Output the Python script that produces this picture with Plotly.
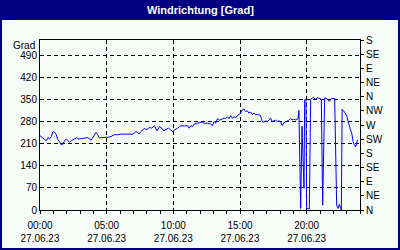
import plotly.graph_objects as go

# ---- data (hour of day, wind direction in degrees) ----
hours = [0.0, 0.30, 0.47, 0.60, 0.72, 0.85, 0.97, 1.09, 1.22, 1.34, 1.47, 1.59, 1.72, 1.84, 1.97,
         2.09, 2.21, 2.34, 2.46, 2.59, 2.79, 2.88, 3.03, 3.21, 3.46, 3.58, 3.71, 3.83, 3.96, 4.08,
         4.20, 4.33, 4.45, 4.58, 4.83, 5.07, 5.32, 5.57, 5.82, 6.07, 6.57, 6.94, 7.06, 7.19, 7.31,
         7.44, 7.56, 7.81, 8.03, 8.21, 8.38, 8.58, 8.78, 8.96, 9.13, 9.28, 9.45, 9.63, 9.78, 9.95,
         10.07, 10.20, 10.32, 10.45, 10.57, 10.82, 11.07, 11.19, 11.32, 11.44, 11.57, 11.82, 12.06,
         12.19, 12.31, 12.56, 12.81, 12.93, 13.06, 13.18, 13.31, 13.43, 13.56, 13.81, 13.93, 14.05,
         14.18, 14.30, 14.43, 14.55, 14.68, 14.80, 14.93, 15.05, 15.17, 15.30, 15.42, 15.55, 15.67,
         15.80, 15.92, 16.04, 16.17, 16.29, 16.42, 16.54, 16.67, 16.79, 16.92, 17.04, 17.16, 17.29,
         17.41, 17.54, 17.66, 17.79, 17.91, 18.04, 18.16, 18.29, 18.41, 18.54, 18.66, 18.78, 18.91,
         19.03, 19.20, 19.35, 19.42, 19.50, 19.55, 19.65, 19.80, 19.85, 19.95, 20.00, 20.20, 20.30,
         20.40, 20.50, 20.65, 20.80, 21.00, 21.10, 21.20, 21.35, 21.45, 21.60, 21.70, 21.85, 22.10,
         22.25, 22.35, 22.45, 22.55, 22.60, 22.66, 22.76, 22.89, 23.00, 23.08, 23.18, 23.28, 23.38,
         23.48, 23.58, 23.66, 23.73, 23.81]
direction = [236, 226, 220, 230, 226, 233, 249, 247, 239, 223, 217, 207, 209, 220, 226,
             220, 215, 220, 223, 226, 230, 225, 226, 228, 228, 230, 226, 222, 230, 241,
             247, 239, 228, 230, 230, 231, 233, 239, 239, 241, 241, 241, 244, 249, 247,
             241, 249, 258, 256, 262, 260, 268, 251, 265, 260, 251, 256, 260, 255, 249,
             254, 256, 260, 265, 268, 267, 268, 260, 268, 265, 273, 276, 277,
             279, 275, 276, 273, 268, 281, 276, 290, 285, 287, 292, 290, 296,
             290, 300, 292, 296, 294, 300, 304, 308, 318, 321, 313, 315, 308,
             311, 304, 308, 302, 304, 302, 300, 281, 279, 283, 281, 285, 292,
             281, 283, 285, 281, 283, 281, 268, 277, 281, 283, 285, 290, 287,
             288, 286, 290, 316, 150, 5, 267, 69, 350, 350, 5, 3, 352,
             356, 358, 352, 356, 354, 352, 15, 356, 355, 350, 345, 354, 354,
             15, 5, 18, 3, 0, 320, 316, 308, 299, 286, 267, 255, 244,
             217, 207, 200, 207, 223]

x_tickvals = [0, 5, 10, 15, 20]
x_ticktext = ["00:00<br>27.06.23", "05:00<br>27.06.23", "10:00<br>27.06.23",
              "15:00<br>27.06.23", "20:00<br>27.06.23"]
y_tickvals = [0, 70, 140, 210, 280, 350, 420, 490]
y2_tickvals = [0, 45, 90, 135, 180, 225, 270, 315, 360, 405, 450, 495, 540]
y2_ticktext = ["N", "NE", "E", "SE", "S", "SW", "W", "NW", "N", "NE", "E", "SE", "S"]

title_text = "Windrichtung [Grad]"
unit_text = "Grad"

NAVY = "#000080"
BG = "#F8FCF8"
FONT = "Liberation Sans"

fig = go.Figure()
fig.add_trace(go.Scatter(x=hours, y=direction, mode="lines",
                         line=dict(color="#0000FF", width=1), showlegend=False,
                         hoverinfo="skip"))
fig.add_trace(go.Scatter(x=hours, y=direction, mode="lines", yaxis="y2",
                         line=dict(color="rgba(0,0,0,0)", width=0), showlegend=False,
                         hoverinfo="skip"))

L, R, T, B, W, H = 40, 40, 40, 40, 400, 250
pw, ph = W - L - R, H - T - B

def px(xp):
    return (xp - L) / pw

def py(yp):
    return (H - B - yp) / ph

fig.update_layout(
    width=W, height=H, autosize=False,
    margin=dict(l=L, r=R, t=T, b=B, pad=0, autoexpand=False),
    paper_bgcolor=BG, plot_bgcolor=BG,
    font=dict(family=FONT, size=10, color="black"),
    xaxis=dict(range=[0, 24], tickvals=x_tickvals, ticktext=x_ticktext,
               showgrid=True, gridcolor="black", gridwidth=1, griddash="4px,3px",
               showline=True, linecolor="black", linewidth=1, mirror=True,
               ticks="outside", ticklen=3, tickcolor="black", zeroline=False,
               ticklabelstandoff=3, automargin=False,
               minor=dict(dtick=1, ticks="outside", ticklen=3, tickcolor="black", showgrid=False),
               tickfont=dict(family=FONT, size=10, color="black")),
    yaxis=dict(range=[0, 540], tickvals=y_tickvals, automargin=False,
               showgrid=True, gridcolor="black", gridwidth=1, griddash="4px,3px",
               showline=True, linecolor="black", linewidth=1, ticks="", zeroline=False,
               tickfont=dict(family=FONT, size=10, color="black")),
    yaxis2=dict(range=[0, 540], tickvals=y2_tickvals, ticktext=y2_ticktext,
                overlaying="y", side="right", anchor="x", automargin=False,
                showgrid=False, showline=True, linecolor="black", linewidth=1,
                ticks="outside", ticklen=3, tickcolor="black", zeroline=False,
                tickfont=dict(family=FONT, size=10, color="black")),
    shapes=[
        dict(type="rect", xref="paper", yref="paper",
             x0=px(0), x1=px(W), y0=py(20), y1=py(0),
             fillcolor=NAVY, line=dict(width=0), layer="above"),
        dict(type="rect", xref="paper", yref="paper",
             x0=px(1), x1=px(W - 1), y0=py(H - 1), y1=py(1),
             fillcolor="rgba(0,0,0,0)", line=dict(color=NAVY, width=2), layer="above"),
    ],
    annotations=[
        dict(text="<b>" + title_text + "</b>", xref="paper", yref="paper",
             x=0.5, y=py(10), xanchor="center", yanchor="middle", showarrow=False,
             font=dict(family=FONT, size=11, color="white")),
        dict(text=unit_text, xref="paper", yref="paper",
             x=px(37), y=py(45), xanchor="right", yanchor="middle", showarrow=False,
             font=dict(family=FONT, size=10, color="black")),
    ],
)

fig.write_html("out.html")
